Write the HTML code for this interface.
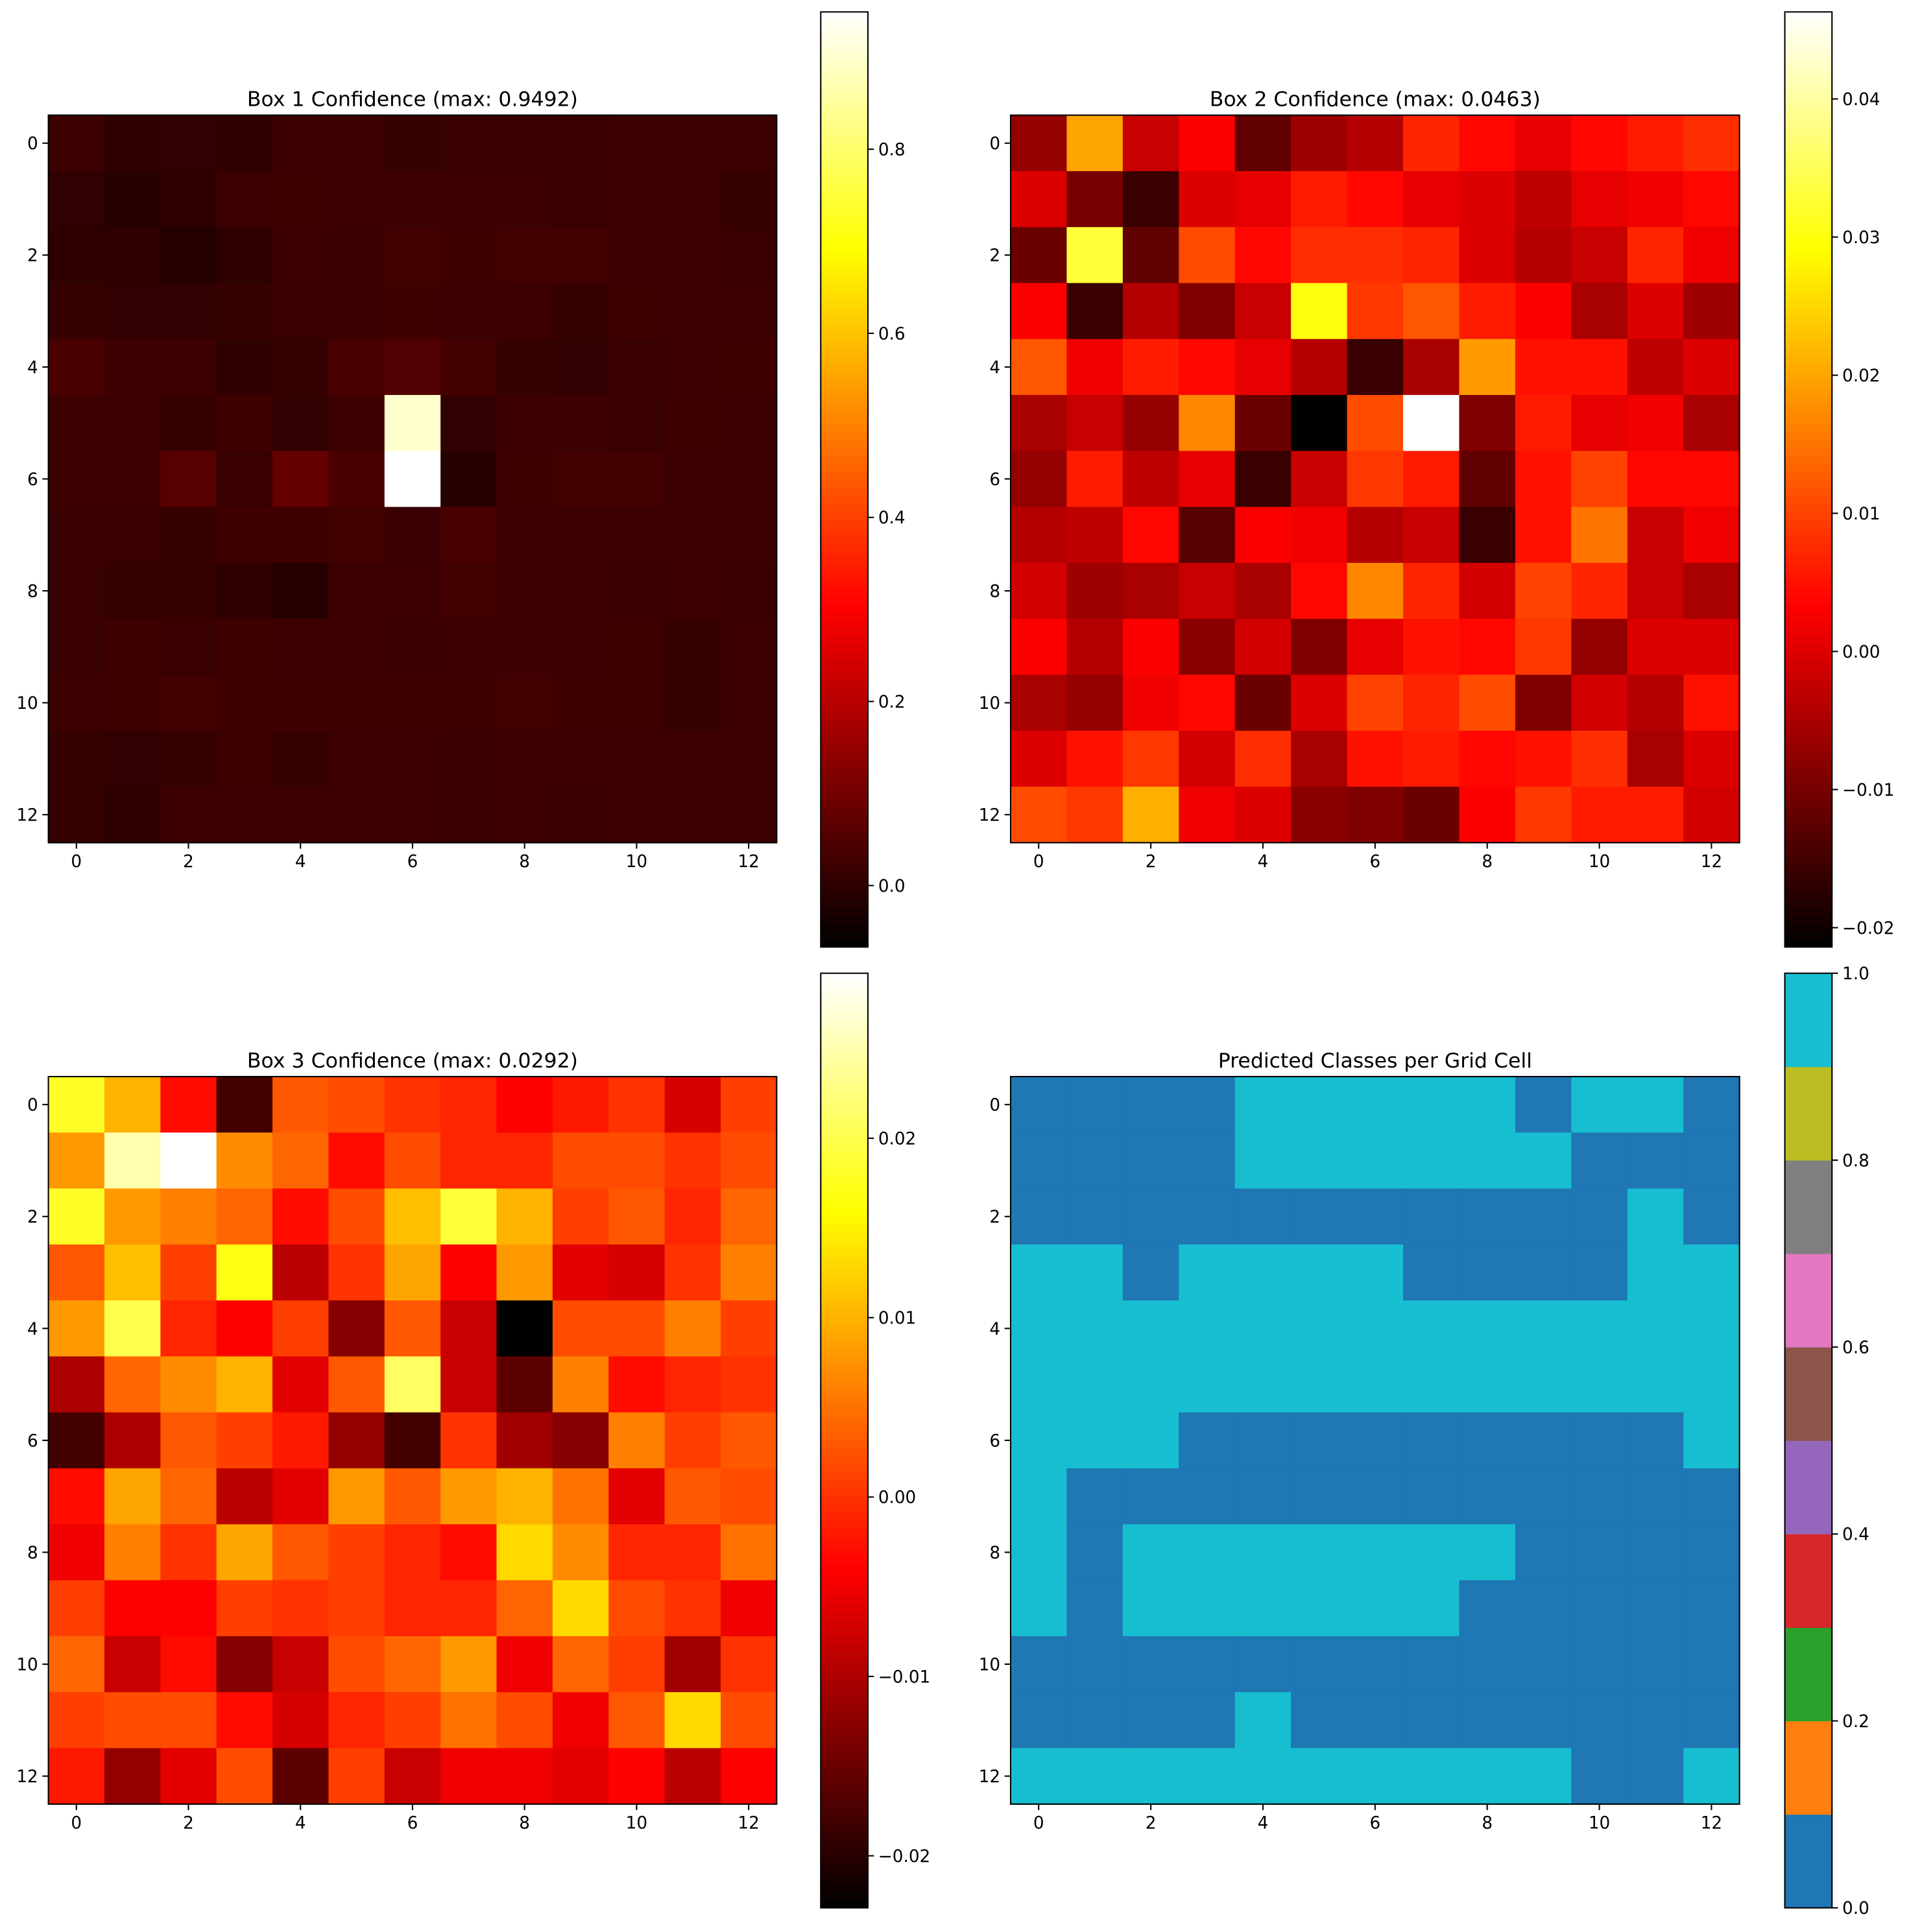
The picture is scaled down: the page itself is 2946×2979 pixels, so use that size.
<!DOCTYPE html>
<html><head><meta charset="utf-8"><style>
html,body{margin:0;padding:0;background:#fff;}
svg{display:block;font-family:"DejaVu Sans","Liberation Sans",sans-serif;}
</style></head><body>
<svg id="fig" width="2946" height="2979" viewBox="0 0 1560 1577.4" xmlns="http://www.w3.org/2000/svg">
<rect width="1560" height="1577.4" fill="#fff"/>
</svg>
<script>
const box1 = [
[.02,.0,.005,.0,.02,.02,.01,.015,.015,.015,.02,.02,.02],
[.005,-.01,.0,.02,.025,.02,.02,.02,.02,.015,.02,.02,.01],
[.0,.0,-.015,.0,.02,.015,.03,.025,.03,.03,.02,.02,.015],
[.01,.005,.005,.01,.015,.015,.025,.02,.02,.01,.025,.02,.02],
[.04,.02,.02,.0,.01,.04,.05,.03,.01,.005,.015,.02,.025],
[.02,.02,.01,.025,.005,.02,.90,.005,.02,.02,.015,.025,.02],
[.02,.02,.06,.015,.08,.04,.9492,-.01,.025,.03,.03,.02,.02],
[.015,.015,.01,.025,.025,.03,.015,.04,.02,.02,.02,.02,.02],
[.015,.01,.01,.0,-.01,.02,.02,.03,.02,.02,.015,.02,.015],
[.015,.025,.015,.025,.02,.02,.015,.02,.02,.02,.025,.01,.02],
[.02,.025,.03,.025,.025,.025,.025,.025,.03,.025,.025,.01,.02],
[.01,.005,.01,.025,.01,.02,.02,.015,.02,.02,.02,.02,.02],
[.01,.0,.02,.02,.02,.02,.02,.015,.02,.015,.02,.02,.02]];
const box2 = [
[-.007,.02,-.002,.003,-.012,-.006,-.004,.007,.004,.001,.004,.006,.008],
[.0,-.01,-.016,.0,.001,.006,.004,.001,.0,-.003,.001,.002,.004],
[-.011,.033,-.012,.011,.004,.008,.008,.007,.0,-.004,-.002,.007,.002],
[.003,-.016,-.004,-.009,-.002,.03,.009,.012,.006,.003,-.005,.0,-.006],
[.012,.002,.006,.004,.001,-.004,-.016,-.005,.019,.005,.005,-.003,.0],
[-.005,-.002,-.007,.017,-.011,-.0214,.011,.0463,-.009,.006,.001,.002,-.005],
[-.007,.006,-.003,.001,-.016,-.002,.009,.006,-.012,.005,.01,.004,.004],
[-.004,-.003,.004,-.013,.003,.002,-.004,-.002,-.016,.005,.015,-.002,.002],
[-.001,-.006,-.005,-.002,-.005,.004,.017,.007,-.001,.01,.007,-.002,-.005],
[.003,-.004,.003,-.008,-.001,-.009,.001,.005,.004,.009,-.007,.0,.0],
[-.005,-.007,.002,.004,-.011,.0,.01,.007,.011,-.009,-.001,-.004,.005],
[.0,.005,.009,-.001,.008,-.005,.005,.006,.004,.005,.008,-.005,.0],
[.011,.009,.021,.002,.0,-.008,-.009,-.011,.003,.009,.006,.006,-.001]];
const box3 = [
[.018,.01,-.003,-.018,.003,.002,.0,-.001,-.004,-.002,.0,-.007,.001],
[.008,.025,.0292,.007,.004,-.003,.002,-.001,-.001,.002,.002,.0,.002],
[.018,.008,.006,.004,-.003,.002,.011,.019,.01,.001,.003,-.001,.004],
[.003,.011,.001,.017,-.009,.0,.009,-.004,.008,-.006,-.007,.0,.006],
[.008,.02,-.001,-.004,.001,-.013,.003,-.008,-.0229,.002,.002,.006,.001],
[-.01,.004,.007,.01,-.006,.003,.021,-.008,-.016,.006,-.003,-.001,.0],
[-.018,-.01,.003,.001,-.002,-.012,-.018,.0,-.011,-.013,.006,.001,.003],
[-.003,.009,.004,-.009,-.006,.008,.003,.008,.01,.005,-.006,.003,.002],
[-.005,.006,.0,.009,.003,.001,-.001,-.003,.013,.007,-.001,-.001,.005],
[.001,-.004,-.004,.001,.0,.001,-.001,-.001,.004,.013,.002,.0,-.005],
[.004,-.008,-.003,-.013,-.008,.002,.004,.008,-.005,.004,.001,-.011,.0],
[.001,.002,.002,-.003,-.007,-.001,.001,.005,.002,-.005,.003,.013,.002],
[-.002,-.012,-.006,.002,-.016,.001,-.008,-.005,-.005,-.006,-.004,-.009,-.004]];
const classes = [
"0000111110110","0000111111000","0000000000010","1101111000011",
"1111111111111","1111111111111","1110000000001","1000000000000",
"1011111110000","1011111100000","0000000000000","0000100000000","1111111111001"];
const titles = ["Box 1 Confidence (max: 0.9492)","Box 2 Confidence (max: 0.0463)","Box 3 Confidence (max: 0.0292)","Predicted Classes per Grid Cell"];
const ranges = [[-0.0668,0.9492],[-0.0214,0.0463],[-0.0229,0.0292],[0,1]];
const cbTicks1 = [0.0,0.2,0.4,0.6,0.8];
const cbLabels1 = ["0.0","0.2","0.4","0.6","0.8"];
const cbTicks2 = [-0.02,-0.01,0,0.01,0.02,0.03,0.04];
const cbLabels2 = ["\u22120.02","\u22120.01","0.00","0.01","0.02","0.03","0.04"];
const cbTicks3 = [-0.02,-0.01,0,0.01,0.02];
const cbLabels3 = ["\u22120.02","\u22120.01","0.00","0.01","0.02"];
const cbTicks4 = [0,0.2,0.4,0.6,0.8,1.0];
const cbLabels4 = ["0.0","0.2","0.4","0.6","0.8","1.0"];
const axTicks = [0,2,4,6,8,10,12];
const tab10 = ["#1f77b4","#ff7f0e","#2ca02c","#d62728","#9467bd","#8c564b","#e377c2","#7f7f7f","#bcbd22","#17becf"];

const NS="http://www.w3.org/2000/svg";
const svg=document.getElementById('fig');
function mk(tag,attrs,parent){const e=document.createElementNS(NS,tag);for(const k in attrs)e.setAttribute(k,attrs[k]);(parent||svg).appendChild(e);return e;}
function hot(t){t=Math.max(0,Math.min(1,t));
 const r=Math.min(1,t/0.365079),g=Math.max(0,Math.min(1,(t-0.365079)/0.380952)),b=Math.max(0,Math.min(1,(t-0.746032)/0.253968));
 return `rgb(${Math.round(r*255)},${Math.round(g*255)},${Math.round(b*255)})`;}

const panels=[
 {ax:[39.5,94,594.5,594],cb:[670,9.7,38.5,763.5],data:box1,ticks:cbTicks1,labels:cbLabels1},
 {ax:[825,94,595,594],cb:[1457,9.7,38.5,763.5],data:box2,ticks:cbTicks2,labels:cbLabels2},
 {ax:[39.5,879,594.5,594],cb:[670,794.6,38.5,763.1],data:box3,ticks:cbTicks3,labels:cbLabels3},
 {ax:[825,879,595,594],cb:[1457,794.6,38.5,763.1],data:null,ticks:cbTicks4,labels:cbLabels4}];

panels.forEach((p,pi)=>{
 const [ax,ay,aw,ah]=p.ax; const [vmin,vmax]=ranges[pi];
 const g=mk('g',{});
 
 
 const cw=aw/13, ch=ah/13;
 const xs=i=>ax+(i+0.5)*cw, ys=j=>ay+(j+0.5)*ch;
 for(let r=0;r<13;r++)for(let c=0;c<13;c++){
  let fill;
  if(p.data){fill=hot((p.data[r][c]-vmin)/(vmax-vmin));}
  else{fill=classes[r][c]==='1'?tab10[9]:tab10[0];}
  const rc=mk('rect',{x:ax+c*cw,y:ay+r*ch,width:cw+0.5,height:ch+0.5,fill:fill},g);
  
  
 }
 const fr=mk('rect',{x:ax,y:ay,width:aw,height:ah,fill:'none',stroke:'#000','stroke-width':1.1},g);
 
 
 axTicks.forEach((t,i)=>{
  mk('line',{x1:xs(t),x2:xs(t),y1:ay+ah,y2:ay+ah+4.9,stroke:'#000','stroke-width':1.1},g);
  const tx=mk('text',{x:xs(t),y:ay+ah+20,'font-size':13.9,'text-anchor':'middle',fill:'#000'},g);
  tx.textContent=t;
  
  
  mk('line',{x1:ax,x2:ax-4.9,y1:ys(t),y2:ys(t),stroke:'#000','stroke-width':1.1},g);
  const ty=mk('text',{x:ax-8.4,y:ys(t)+5,'font-size':13.9,'text-anchor':'end',fill:'#000'},g);
  ty.textContent=t;
  
  
 });
 const tt=mk('text',{x:ax+aw/2,y:ay-7.5,'font-size':16.7,'text-anchor':'middle',fill:'#000'},g);
 tt.textContent=titles[pi];
 
 
 // colorbar
 const [cx,cy,cW,cH]=p.cb;
 const cg=mk('g',{},g);
 
 
 if(p.data){
  const N=120;
  for(let k=0;k<N;k++){
   const t0=k/N;
   mk('rect',{x:cx,y:cy+cH*(1-(k+1)/N),width:cW,height:cH/N+0.4,fill:hot(t0+0.5/N)},cg);
  }
 } else {
  for(let k=0;k<10;k++) mk('rect',{x:cx,y:cy+cH*(1-(k+1)/10),width:cW,height:cH/10+0.3,fill:tab10[k]},cg);
 }
 mk('rect',{x:cx,y:cy,width:cW,height:cH,fill:'none',stroke:'#000','stroke-width':1.1},cg);
 p.ticks.forEach((t,i)=>{
  const yy=cy+cH*(1-(t-vmin)/(vmax-vmin));
  mk('line',{x1:cx+cW,x2:cx+cW+4.9,y1:yy,y2:yy,stroke:'#000','stroke-width':1.1},cg);
  const lt=mk('text',{x:cx+cW+8.4,y:yy+5,'font-size':13.9,fill:'#000'},cg);
  lt.textContent=p.labels[i];
  
  
 });
});
</script>
</body></html>
